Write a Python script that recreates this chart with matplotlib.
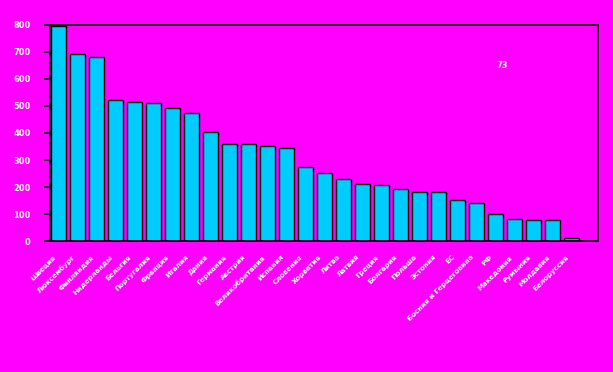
import matplotlib
matplotlib.use("Agg")
import matplotlib.pyplot as plt
import matplotlib.transforms as mtransforms

countries = ["Швеция", "Люксембург", "Финляндия", "Нидерланды", "Бельгия",
             "Португалия", "Франция", "Италия", "Дания", "Германия", "Австрия",
             "Великобритания", "Испания", "Словения", "Хорватия", "Литва",
             "Латвия", "Греция", "Болгария", "Польша", "Эстония", "ЕС",
             "Босния и Герцеговина", "РФ", "Македония", "Румыния", "Молдавия",
             "Белоруссия"]
values = [795, 692, 680, 521, 514, 510, 492, 473, 403, 359, 359, 351, 344,
          274, 251, 229, 211, 207, 192, 181, 181, 152, 140, 100, 81, 78, 78, 11]
yticks = [0, 100, 200, 300, 400, 500, 600, 700, 800]
note = "73"

BG = "#FF00FF"
BAR = "#00CCFF"

fig = plt.figure(figsize=(6.13, 3.72), dpi=100, facecolor=BG)
ax = fig.add_axes([50/613, 1-241.3/372, 548/613, (241.3-24.7)/372])
ax.set_facecolor(BG)

x = list(range(len(values)))
w = 0.80
ax.bar(x, values, width=w, color=BAR, edgecolor="black", linewidth=1.0, zorder=2)
ax.set_xlim(-w/2 - 0.05, -w/2 - 0.05 + 548/19.0)
ax.set_ylim(0, 800)
ax.set_yticks(yticks)
ax.set_yticklabels([str(v) for v in yticks], color="white", fontsize=6,
                   fontweight="bold")
ax.tick_params(axis="y", direction="out", length=4, width=1.2, color="black", pad=10)
ax.set_xticks(x)
ax.set_xticklabels(countries, rotation=45, ha="right", va="top",
                   rotation_mode="anchor", color="white", fontsize=5,
                   fontweight="bold")
ax.tick_params(axis="x", length=0, pad=9)
offset = mtransforms.ScaledTranslation(-6/100, 0, fig.dpi_scale_trans)
for lbl in ax.get_xticklabels():
    lbl.set_transform(lbl.get_transform() + offset)
for s in ax.spines.values():
    s.set_color("black")
    s.set_linewidth(1.2)

fig.text(502/613, 1-66/372, note, color="white", fontsize=6, fontweight="bold",
         ha="center", va="center")

fig.savefig("out.png", dpi=100, facecolor=BG)
